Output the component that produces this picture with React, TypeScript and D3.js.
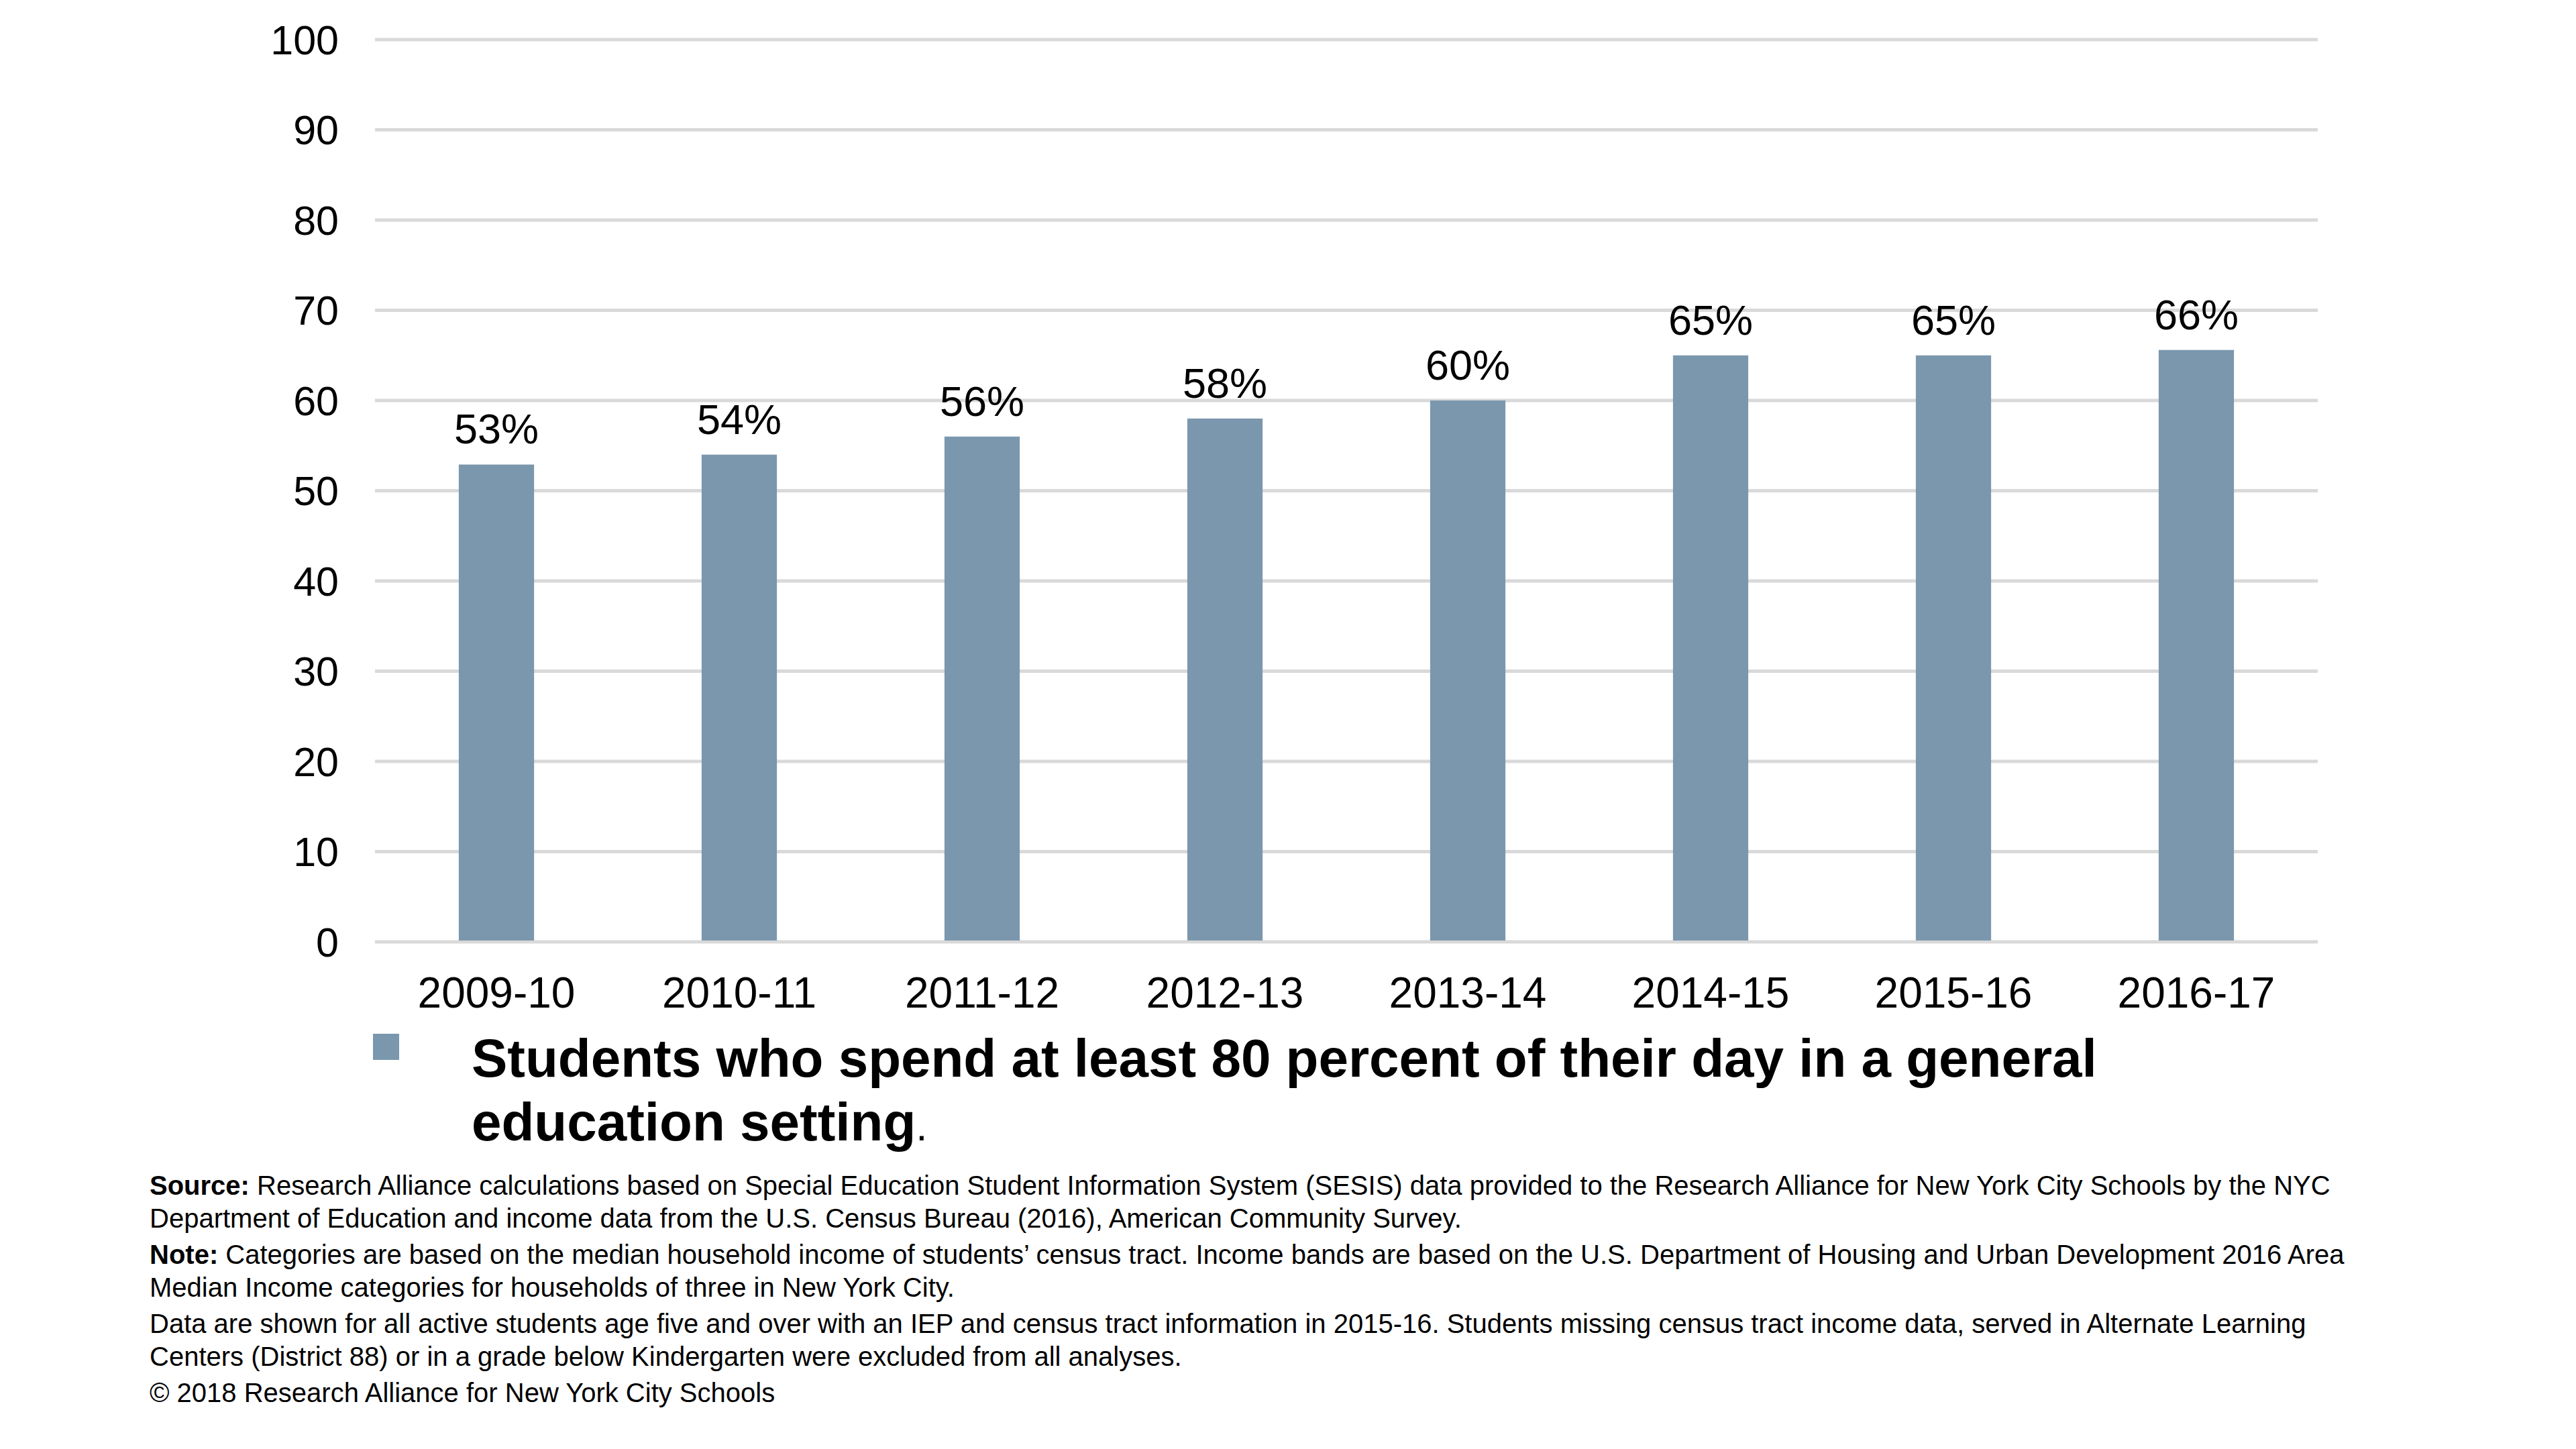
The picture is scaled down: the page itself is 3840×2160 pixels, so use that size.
import React, { useEffect } from 'react';
import * as d3 from 'd3';

const years = ['2009-10', '2010-11', '2011-12', '2012-13', '2013-14', '2014-15', '2015-16', '2016-17'];
const shares = [52.9, 54, 56, 58, 60, 65, 65, 65.6];
const yTicks = [0, 10, 20, 30, 40, 50, 60, 70, 80, 90, 100];

const legendLines = ['Students who spend at least 80 percent of their day in a general', 'education setting'];

const notes = [
  { bold: 'Source: ', text: 'Research Alliance calculations based on Special Education Student Information System (SESIS) data provided to the Research Alliance for New York City Schools by the NYC', gap: 0 },
  { bold: '', text: 'Department of Education and income data from the U.S. Census Bureau (2016), American Community Survey.', gap: 0 },
  { bold: 'Note: ', text: 'Categories are based on the median household income of students\u2019 census tract. Income bands are based on the U.S. Department of Housing and Urban Development 2016 Area', gap: 1 },
  { bold: '', text: 'Median Income categories for households of three in New York City.', gap: 0 },
  { bold: '', text: 'Data are shown for all active students age five and over with an IEP and census tract information in 2015-16. Students missing census tract income data, served in Alternate Learning', gap: 1 },
  { bold: '', text: 'Centers (District 88) or in a grade below Kindergarten were excluded from all analyses.', gap: 0 },
  { bold: '', text: '\u00a9 2018 Research Alliance for New York City Schools', gap: 1 },
];

const width = 3840;
const height = 2160;
const barColor = '#7b97ad';
const font = '"Liberation Sans", Arial, sans-serif';

const App = () => {
  function drawChart() {
    d3.select('#chart-container').select('svg').remove();

    const svg = d3
      .select('#chart-container')
      .append('svg')
      .attr('width', width)
      .attr('height', height)
      .style('position', 'absolute')
      .style('left', 0)
      .style('top', 0)
      .style('background', '#fff')
      .style('font-family', font);

    const x = d3.scaleBand<string>().domain(years).range([559, 3455]).paddingInner(0.69).paddingOuter(0.345);
    const y = d3.scaleLinear().domain([0, 100]).range([1404, 59]);

    // gridlines
    svg
      .append('g')
      .selectAll('line')
      .data(yTicks)
      .enter()
      .append('line')
      .attr('x1', 559)
      .attr('x2', 3455)
      .attr('y1', (d) => y(d))
      .attr('y2', (d) => y(d))
      .attr('stroke', '#d9d9d9')
      .attr('stroke-width', 5);

    // y labels
    svg
      .append('g')
      .selectAll('text')
      .data(yTicks)
      .enter()
      .append('text')
      .attr('x', 505)
      .attr('y', (d) => y(d))
      .attr('dy', '0.36em')
      .attr('text-anchor', 'end')
      .style('font-size', '61px')
      .text((d) => d);

    // bars
    svg
      .append('g')
      .selectAll('rect')
      .data(shares)
      .enter()
      .append('rect')
      .attr('x', (_, i) => x(years[i]) as number)
      .attr('width', x.bandwidth())
      .attr('y', (d) => y(d))
      .attr('height', (d) => y(0) - y(d) - 2)
      .attr('fill', barColor);

    // value labels
    svg
      .append('g')
      .selectAll('text')
      .data(shares)
      .enter()
      .append('text')
      .attr('x', (_, i) => (x(years[i]) as number) + x.bandwidth() / 2)
      .attr('y', (d) => y(d) - 31)
      .attr('text-anchor', 'middle')
      .style('font-size', '63px')
      .text((d) => `${Math.round(d)}%`);

    // x labels
    svg
      .append('g')
      .selectAll('text')
      .data(years)
      .enter()
      .append('text')
      .attr('x', (d) => (x(d) as number) + x.bandwidth() / 2)
      .attr('y', 1502)
      .attr('text-anchor', 'middle')
      .style('font-size', '64px')
      .text((d) => d);

    // legend
    svg.append('rect').attr('x', 556).attr('y', 1541).attr('width', 39).attr('height', 39).attr('fill', barColor);
    const legend = svg.append('text').style('font-size', '80px').style('font-weight', 'bold');
    legend.append('tspan').attr('x', 703).attr('y', 1605).text(legendLines[0]);
    legend.append('tspan').attr('x', 703).attr('y', 1700).text(legendLines[1]);
    legend.append('tspan').style('font-weight', 'normal').style('font-size', '62px').text('.');

    // footnotes
    let yy = 1781;
    notes.forEach((n, i) => {
      if (i > 0) yy += n.gap ? 54 : 49;
      const t = svg.append('text').attr('x', 223).attr('y', yy).style('font-size', '40px');
      if (n.bold) t.append('tspan').style('font-weight', 'bold').text(n.bold);
      t.append('tspan').text(n.text);
    });
  }

  useEffect(() => {
    drawChart();
  }, []);

  return <div id='chart-container' />;
};

export default App;
